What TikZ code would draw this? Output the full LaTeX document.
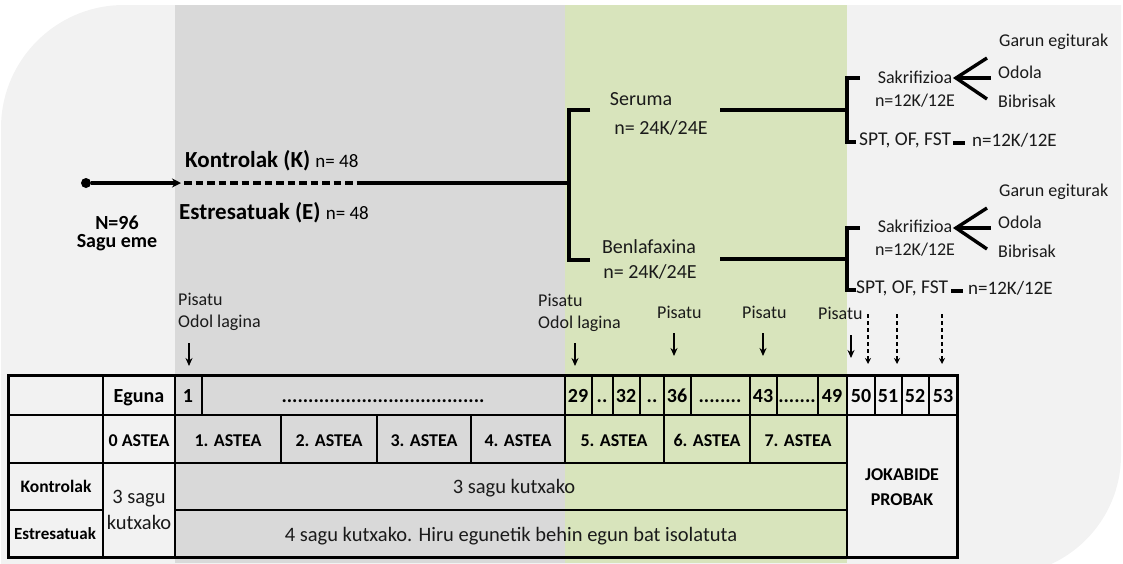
\documentclass[tikz,border=0pt]{standalone}
\usepackage{fontspec}
\setmainfont{Carlito}
\usetikzlibrary{arrows.meta}
\definecolor{bglight}{HTML}{F2F2F2}
\definecolor{bggray}{HTML}{D9D9D9}
\definecolor{bggreen}{HTML}{D8E4BC}
\definecolor{txt}{HTML}{1A1A1A}
\begin{document}
\begin{tikzpicture}[x=1pt,y=-1pt,
  lbl/.style={inner sep=0pt,text=txt,font=\fontsize{18}{20}\selectfont},
  sptlbl/.style={inner sep=0pt,text=txt,font=\fontsize{19.5}{21}\selectfont},
  nlbl/.style={inner sep=0pt,text=txt,font=\fontsize{19}{21}\selectfont},
  big/.style={inner sep=0pt,text=txt,font=\fontsize{20}{22}\selectfont},
  bold/.style={inner sep=0pt,text=black,font=\fontsize{20}{22}\selectfont\bfseries},
  tb/.style={inner sep=0pt,text=black,font=\fontsize{18}{20}\selectfont\bfseries},
  tr/.style={inner sep=0pt,text=txt,font=\fontsize{20.5}{22}\selectfont},
  tree/.style={line width=3.4pt},
  grid/.style={line width=1.8pt},
  down/.style={line width=1.8pt,-{Stealth[length=8pt,width=7pt]}},
  ddown/.style={line width=1.4pt,dash pattern=on 4pt off 3pt,-{Stealth[length=6pt,width=6pt]}}]
\useasboundingbox (0,0) rectangle (1123,563);
\begin{scope}
\clip (0,0) rectangle (1123,563);
\fill[bglight] (1,128) arc[start angle=180,end angle=270,radius=123] -- (1121,5) -- (1121,455) arc[start angle=0,end angle=90,radius=120] -- (1,575) -- cycle;
\fill[bggray] (175,5) rectangle (565,563);
\fill[bggreen] (565,5) rectangle (847,563);
\end{scope}

% ---------- left part ----------
\node[circle,fill=black,inner sep=0pt,minimum size=10pt] (start) at (86,183) {};
\coordinate (arrEnd) at (181,183);
\coordinate (dashEnd) at (362,183);
\coordinate (fork) at (569,183);
\draw[line width=3.2pt,-{Stealth[length=9pt,width=9pt]}] (start) -- (arrEnd);
\draw[line width=3.4pt,dash pattern=on 7.5pt off 4pt] (arrEnd) ++(3,0) coordinate (dashStart) -- (dashEnd);
\draw[tree] (dashEnd) -- (fork);

\node[anchor=west,inner sep=0pt] (kontK) at (185,161) {\fontsize{23}{25}\selectfont\bfseries Kontrolak (K) \fontsize{19}{21}\mdseries\selectfont n= 48};
\node[anchor=west,inner sep=0pt] (estE) at (179,213) {\fontsize{23}{25}\selectfont\bfseries Estresatuak (E) \fontsize{19}{21}\mdseries\selectfont n= 48};
\node[bold] (n96) at (117,223) {N=96};
\node[bold] (sagu) at (117,243) {Sagu eme};

% ---------- tree ----------
\coordinate (serT) at (569,110);
\coordinate (benB) at (569,260);
\draw[tree] (590,110) -- (serT) -- (benB) -- (590,260);
\node[big] (ser) at (641,99) {Seruma};
\node[big] (ser2) at (661,128) {n= 24K/24E};
\node[big] (ben) at (649,247) {Benlafaxina};
\node[big] (ben2) at (650,272) {n= 24K/24E};

% upper branch
\coordinate (s1a) at (720,110);
\coordinate (s1b) at (847,110);
\draw[tree] (s1a) -- (s1b);
\draw[tree] (860,78) -- (847,78) -- (847,142) -- (856,142);
\node[lbl] (sak1) at (915,77) {Sakrifizioa};
\node[lbl] (n1) at (915,101) {n=12K/12E};
\coordinate (f1) at (956,78);
\draw[tree] (987,58) -- (f1) -- (987,99);
\draw[tree] (f1) -- (991,78);
\node[lbl,anchor=west] (g1) at (999,42) {Garun egiturak};
\node[lbl,anchor=west] (o1) at (998,72) {Odola};
\node[lbl,anchor=west] (b1) at (998,101) {Bibrisak};
\node[sptlbl,anchor=west] (spt1) at (859,140) {SPT, OF, FST};
\draw[line width=4pt] (953,143) -- (965,143);
\node[nlbl,anchor=west] (m1) at (972,140) {n=12K/12E};

% lower branch
\draw[tree] (720,259) -- (847,259);
\draw[tree] (860,228) -- (847,228) -- (847,290) -- (856,290);
\node[lbl] (sak2) at (915,226) {Sakrifizioa};
\node[lbl] (n2) at (915,250) {n=12K/12E};
\coordinate (f2) at (956,228);
\draw[tree] (987,208) -- (f2) -- (987,249);
\draw[tree] (f2) -- (991,228);
\node[lbl,anchor=west] (g2) at (999,192) {Garun egiturak};
\node[lbl,anchor=west] (o2) at (998,222) {Odola};
\node[lbl,anchor=west] (b2) at (998,251) {Bibrisak};
\node[sptlbl,anchor=west] (spt2) at (856,288) {SPT, OF, FST};
\draw[line width=4pt] (951,291) -- (963,291);
\node[nlbl,anchor=west] (m2) at (968,288) {n=12K/12E};

% ---------- annotations ----------
\node[lbl,anchor=west] (p1) at (178,299) {Pisatu};
\node[lbl,anchor=west] (o1l) at (178,323) {Odol lagina};
\draw[down] (189,343) -- (189,366);
\node[lbl,anchor=west] (p2) at (538,300) {Pisatu};
\node[lbl,anchor=west] (o2l) at (538,324) {Odol lagina};
\draw[down] (575,343) -- (575,366);
\node[lbl,anchor=west] (p3) at (657,312) {Pisatu};
\draw[down] (674,333) -- (674,356);
\node[lbl,anchor=west] (p4) at (742,312) {Pisatu};
\draw[down] (763,333) -- (763,356);
\node[lbl,anchor=west] (p5) at (818,313) {Pisatu};
\draw[down] (851,335) -- (851,358);
\draw[ddown] (868,314) -- (868,364);
\draw[ddown] (897,314) -- (897,364);
\draw[ddown] (942,314) -- (942,364);

% ---------- table ----------
\draw[grid] (8,415) -- (957,415);
\draw[grid] (8,463) -- (847,463);
\draw[grid] (8,510) -- (103,510) (175,510) -- (847,510);
\draw[grid] (103,375) -- (103,557) (175,375) -- (175,557) (847,375) -- (847,557);
\foreach \x in {202,565,592,613,640,664,691,750,777,818,875,902,929}
  \draw[grid] (\x,375) -- (\x,415);
\foreach \x in {281,377,471,565,664,750}
  \draw[grid] (\x,415) -- (\x,463);
\draw[line width=3pt] (8,375) rectangle (957,557);

\node[bold,anchor=base] (eguna) at (139,402) {Eguna};
\node[bold,anchor=base] (d1) at (188,402) {1};
\node[bold,anchor=base] (dots1) at (383,402) {......................................};
\node[bold,anchor=base] (d29) at (578,402) {29};
\node[bold,anchor=base] (dd1) at (602,402) {..};
\node[bold,anchor=base] (d32) at (626,402) {32};
\node[bold,anchor=base] (dd2) at (652,402) {..};
\node[bold,anchor=base] (d36) at (677,402) {36};
\node[bold,anchor=base] (dots2) at (720,402) {........};
\node[bold,anchor=base] (d43) at (763,402) {43};
\node[bold,anchor=base] (dots3) at (797,402) {.......};
\node[bold,anchor=base] (d49) at (832,402) {49};
\node[bold,anchor=base] (d50) at (861,402) {50};
\node[bold,anchor=base] (d51) at (888,402) {51};
\node[bold,anchor=base] (d52) at (915,402) {52};
\node[bold,anchor=base] (d53) at (943,402) {53};

\node[tb,anchor=base] (a0) at (139,446) {0 ASTEA};
\node[tb,anchor=base] (a1) at (228,446) {1. ASTEA};
\node[tb,anchor=base] (a2) at (329,446) {2. ASTEA};
\node[tb,anchor=base] (a3) at (424,446) {3. ASTEA};
\node[tb,anchor=base] (a4) at (518,446) {4. ASTEA};
\node[tb,anchor=base] (a5) at (614,446) {5. ASTEA};
\node[tb,anchor=base] (a6) at (707,446) {6. ASTEA};
\node[tb,anchor=base] (a7) at (798,446) {7. ASTEA};

\node[tb,anchor=base,font=\fontsize{17.5}{19}\selectfont\bfseries] (kon) at (56,492) {Kontrolak};
\node[tb,anchor=base,font=\fontsize{17}{19}\selectfont\bfseries] (est) at (55,539) {Estresatuak};
\node[tr,anchor=base] (s3a) at (139,503) {3 sagu};
\node[tr,anchor=base] (s3b) at (139,529) {kutxako};
\node[tr,anchor=base] (k3) at (514,493) {3 sagu kutxako};
\node[tr,anchor=base] (k4) at (511,541) {4 sagu kutxako. Hiru egunetik behin egun bat isolatuta};
\node[tb,anchor=base] (jok) at (902,480) {JOKABIDE};
\node[tb,anchor=base] (prob) at (902,505) {PROBAK};
\end{tikzpicture}
\end{document}
